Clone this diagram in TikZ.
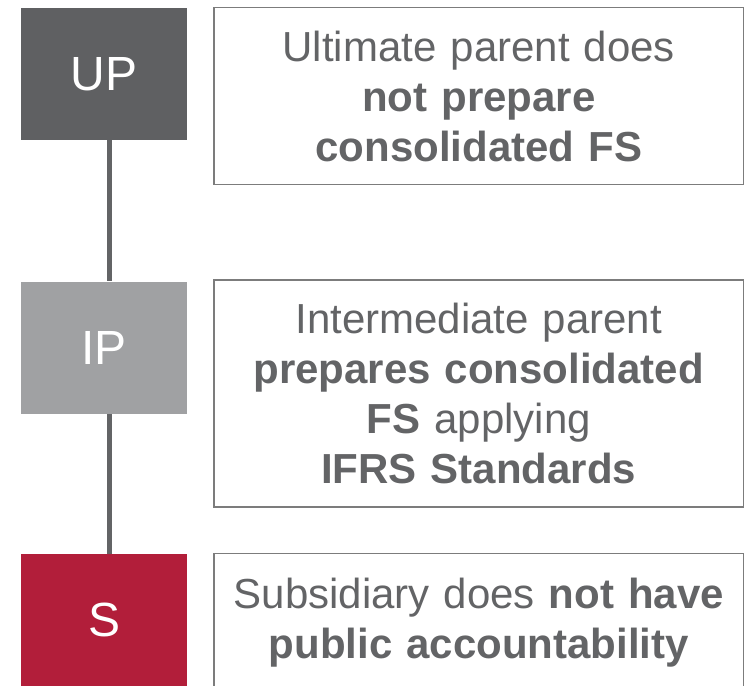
\documentclass[tikz,border=0pt]{standalone}
\usepackage{fontspec}
\setmainfont{Liberation Sans}
\definecolor{upgray}{HTML}{5F6062}
\definecolor{ipgray}{HTML}{A0A1A3}
\definecolor{sred}{HTML}{B21E3A}
\definecolor{txtgray}{HTML}{636466}
\definecolor{boxgray}{HTML}{7C7C7C}
\begin{document}
\begin{tikzpicture}
	[tier/.style={rectangle,fill=#1,text=white,minimum width=3.31cm,minimum height=2.64cm,inner sep=0pt,font=\fontsize{27.3}{32}\selectfont},
	note/.style={rectangle,draw=boxgray,line width=0.85pt,text=txtgray,minimum width=10.59cm,text width=10cm,align=center,inner sep=0pt,font=\fontsize{23.9}{28.45}\selectfont},
	link/.style={line width=3.2pt,draw=txtgray}]
	\useasboundingbox (0,0) rectangle (14.9,13.7);
	\node[tier=upgray,name=up] at (2.08,12.22) {UP};
	\node[tier=ipgray,name=ip] at (2.08,6.75) {IP};
	\node[tier=sred,name=s] at (2.08,1.30) {S};
	\node[note,minimum height=3.54cm,name=upnote] at (9.575,11.78) {Ultimate parent does\\\textbf{not prepare}\\\textbf{consolidated FS}};
	\node[note,minimum height=4.54cm,name=ipnote] at (9.575,5.83) {Intermediate parent\\\textbf{prepares consolidated}\\\textbf{FS} applying\\\textbf{IFRS Standards}};
	\node[note,minimum height=2.76cm,name=snote] at (9.575,1.25) {Subsidiary does \textbf{not have}\\\textbf{public accountability}};
	\draw[link]([xshift=0.11cm]up.south)--([xshift=0.11cm]ip.north);
	\draw[link]([xshift=0.11cm]ip.south)--([xshift=0.11cm]s.north);
\end{tikzpicture}
\end{document}
